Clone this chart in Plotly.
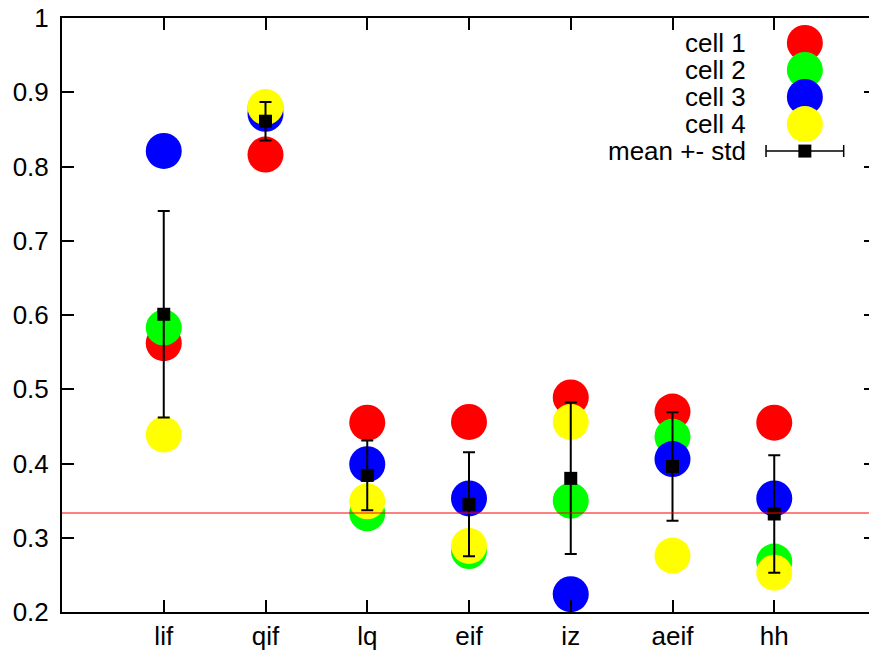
import plotly.graph_objects as go

# ---- data ----
models = ["lif", "qif", "lq", "eif", "iz", "aeif", "hh"]
cell1 = [0.562, 0.816, 0.455, 0.456, 0.489, 0.470, 0.455]
cell2 = [0.583, 0.879, 0.333, 0.282, 0.350, 0.436, 0.268]
cell3 = [0.821, 0.871, 0.399, 0.353, 0.224, 0.406, 0.353]
cell4 = [0.439, 0.880, 0.349, 0.289, 0.456, 0.276, 0.253]
mean_vals = [0.601, 0.861, 0.384, 0.345, 0.380, 0.396, 0.332]
std_vals = [0.139, 0.026, 0.047, 0.070, 0.102, 0.073, 0.079]
series_names = ["cell 1", "cell 2", "cell 3", "cell 4"]
mean_name = "mean +- std"
ref_level = 1 / 3
y_ticks = [0.2, 0.3, 0.4, 0.5, 0.6, 0.7, 0.8, 0.9, 1.0]

# ---- styles ----
colors = ["#ff0000", "#00ff00", "#0000ff", "#ffff00"]
FONT = "Liberation Sans, Arial, Helvetica, sans-serif"
FS = 26
# the original gnuplot frame extends slightly past the right edge of the window
W, H = 878, 653
ML, MR, MT, MB = 62, 0, 18, 41

fig = go.Figure()

for name, vals, col in zip(series_names, [cell1, cell2, cell3, cell4], colors):
    fig.add_trace(go.Scatter(
        x=models, y=vals, mode="markers", name=name, showlegend=False,
        marker=dict(size=36, color=col, line=dict(width=0)),
        hoverinfo="x+y+name"))

fig.add_trace(go.Scatter(
    x=models, y=mean_vals, mode="markers", name=mean_name, showlegend=False,
    marker=dict(symbol="square", size=13, color="black", line=dict(width=0)),
    error_y=dict(type="data", array=std_vals, symmetric=True,
                 color="black", thickness=2, width=6)))

# reference line at 1/3
fig.add_shape(type="line", xref="paper", x0=0, x1=1, yref="y",
              y0=ref_level, y1=ref_level, line=dict(color="#ff0000", width=1))

# ---- custom gnuplot-style key (text left, sample right) ----
key_x = 0.9126
key_text_x = 0.8431
key_err_half = 0.0477
key_rows = [0.958, 0.9125, 0.867, 0.8215, 0.776]
for i, (name, col) in enumerate(zip(series_names, colors)):
    fig.add_trace(go.Scatter(
        x=[key_x], y=[key_rows[i]], xaxis="x2", yaxis="y3", mode="markers",
        showlegend=False, hoverinfo="skip",
        marker=dict(size=36, color=col, line=dict(width=0))))
fig.add_trace(go.Scatter(
    x=[key_x], y=[key_rows[4]], xaxis="x2", yaxis="y3", mode="markers",
    showlegend=False, hoverinfo="skip",
    marker=dict(symbol="square", size=13, color="black", line=dict(width=0)),
    error_x=dict(type="data", array=[key_err_half], symmetric=True,
                 color="black", thickness=1.5, width=6)))
for name, yy in zip(series_names + [mean_name], key_rows):
    fig.add_annotation(text=name, xref="paper", yref="paper", x=key_text_x, y=yy,
                       xanchor="right", yanchor="middle", showarrow=False,
                       font=dict(family=FONT, size=FS, color="black"))

fig.update_layout(
    width=W, height=H,
    margin=dict(l=ML, r=MR, t=MT, b=MB, pad=0),
    plot_bgcolor="white", paper_bgcolor="white",
    font=dict(family=FONT, size=FS, color="black"),
    showlegend=False,
    xaxis=dict(type="category", categoryorder="array", categoryarray=models,
               range=[-1, 7], showgrid=False, zeroline=False,
               showline=True, linecolor="black", linewidth=2, mirror="ticks",
               ticks="inside", ticklen=12, tickwidth=2, tickcolor="black",
               tickfont=dict(family=FONT, size=FS, color="black")),
    yaxis=dict(range=[0.2, 1.0], tickvals=y_ticks, ticktext=[f"{v:g}" for v in y_ticks],
               showgrid=False, zeroline=False,
               showline=True, linecolor="black", linewidth=2, mirror="ticks",
               ticks="inside", ticklen=12, tickwidth=2, tickcolor="black",
               ticklabelstandoff=6,
               tickfont=dict(family=FONT, size=FS, color="black")),
    xaxis2=dict(overlaying="x", range=[0, 1], visible=False),
    yaxis3=dict(overlaying="y", range=[0, 1], visible=False, anchor="x2"),
)

fig.write_html("out.html",
               config={"displayModeBar": False},
               post_script="document.body.style.margin='0';"
                           "document.body.style.overflow='hidden';")
